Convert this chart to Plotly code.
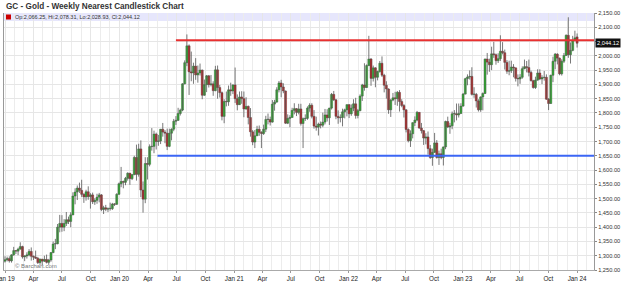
import pandas as pd
import plotly.graph_objects as go

# Weekly candles, week of 2018-12-31 through week of 2024-01-01
week_start = pd.date_range("2018-12-31", periods=262, freq="7D")

opens = [
    # 2019
    1281,1286,1290,1282,1303,1318,1316,1323,1332,1296,1299,1303,1315,1298,1295,1291,1276,1288,1281,1287,1277,1285,1311,1341,1342,1400,1413,1400,1413,1426,1420,1443,1509,1523,1537,1529,1515,1506,1524,1507,1513,1489,1494,1505,1513,1462,1468,1463,1465,1465,1481,1480,1515,
    # 2020
    1552,1560,1557,1571,1589,1570,1584,1644,1585,1674,1530,1498,1623,1620,1682,1683,1726,1700,1702,1743,1733,1729,1683,1729,1743,1771,1774,1798,1810,1902,1976,2035,1944,1940,1964,1933,1940,1950,1862,1899,1930,1899,1902,1878,1951,1889,1871,1788,1840,1839,1881,1877,
    # 2021
    1898,1850,1829,1856,1850,1814,1823,1784,1734,1698,1720,1743,1732,1728,1743,1777,1777,1768,1831,1838,1881,1905,1891,1877,1764,1781,1784,1809,1815,1802,1814,1763,1780,1781,1817,1827,1788,1754,1750,1761,1757,1768,1793,1783,1817,1865,1846,1788,1783,1784,1804,1811,
    # 2022
    1829,1797,1817,1832,1791,1808,1859,1898,1889,1966,1989,1921,1958,1925,1945,1974,1932,1897,1884,1811,1845,1853,1850,1872,1840,1826,1811,1742,1703,1727,1766,1775,1802,1747,1738,1712,1716,1675,1644,1662,1695,1644,1657,1644,1681,1770,1751,1755,1797,1797,1793,1798,
    # 2023
    1824,1866,1920,1926,1928,1865,1865,1842,1811,1856,1868,1989,1978,1969,2007,2004,1983,1990,2016,2011,1977,1946,1948,1961,1958,1921,1919,1925,1955,1962,1959,1942,1913,1889,1915,1940,1919,1924,1925,1848,1833,1932,1981,2006,1992,1937,1981,2001,2072,2004,2019,2053,
    # 2024
    2066.25,
]
highs = [
    1298,1297,1298,1305,1331,1320,1328,1347,1335,1302,1312,1323,1329,1301,1318,1296,1290,1289,1300,1304,1289,1313,1350,1359,1411,1443,1442,1428,1453,1437,1452,1522,1536,1546,1556,1566,1519,1531,1543,1519,1521,1501,1517,1520,1516,1475,1478,1469,1486,1485,1484,1519,1556,
    1611,1563,1576,1592,1590,1586,1650,1689,1692,1704,1560,1645,1645,1690,1747,1738,1731,1723,1744,1765,1740,1745,1745,1746,1779,1789,1818,1815,1904,1984,2075,2040,2015,1976,1992,1966,1973,1952,1917,1933,1933,1933,1911,1965,1966,1898,1875,1848,1875,1896,1906,1900,
    1959,1865,1875,1876,1875,1855,1826,1817,1740,1740,1755,1756,1736,1759,1790,1798,1787,1845,1846,1890,1912,1916,1904,1878,1795,1792,1818,1834,1817,1832,1832,1784,1795,1823,1834,1834,1810,1787,1766,1770,1801,1814,1813,1818,1870,1877,1849,1809,1795,1815,1815,1830,
    1831,1830,1848,1853,1814,1865,1902,1974,1970,2070,1992,1966,1960,1948,1982,1998,1937,1911,1886,1849,1870,1874,1877,1880,1848,1831,1813,1746,1739,1767,1788,1807,1803,1765,1740,1729,1735,1688,1675,1730,1705,1668,1675,1682,1773,1787,1765,1805,1810,1833,1833,1834,
    1870,1923,1935,1949,1960,1890,1870,1848,1858,1872,1990,2010,1990,2032,2049,2008,2009,2072,2048,2022,1985,1983,1983,1971,1959,1935,1936,1963,1987,1982,1987,1948,1916,1927,1953,1953,1932,1947,1935,1852,1934,1997,2010,2009,1994,1988,2010,2075,2135,2047,2070,2088,
    2078.31,
]
lows = [
    1276,1280,1276,1276,1300,1306,1302,1322,1290,1281,1290,1298,1283,1285,1289,1271,1268,1267,1278,1273,1268,1279,1309,1323,1340,1382,1384,1386,1404,1411,1400,1442,1480,1495,1520,1506,1485,1493,1496,1465,1481,1478,1482,1487,1456,1446,1456,1453,1458,1460,1474,1478,1514,
    1540,1536,1547,1563,1548,1565,1582,1563,1577,1505,1451,1484,1567,1613,1668,1659,1672,1685,1691,1717,1694,1670,1680,1704,1736,1758,1772,1791,1806,1900,1964,1863,1911,1902,1916,1906,1931,1848,1860,1873,1889,1893,1860,1876,1850,1854,1774,1764,1823,1825,1860,1866,
    1835,1809,1828,1832,1785,1811,1760,1717,1687,1677,1719,1720,1677,1723,1733,1760,1756,1766,1808,1836,1872,1855,1869,1762,1761,1750,1784,1795,1789,1795,1756,1677,1772,1776,1804,1781,1745,1738,1721,1746,1750,1760,1770,1758,1812,1842,1778,1762,1767,1753,1781,1788,
    1782,1790,1806,1780,1781,1806,1842,1878,1888,1964,1895,1910,1890,1914,1941,1926,1872,1850,1797,1786,1841,1828,1825,1805,1820,1784,1732,1697,1681,1711,1754,1771,1745,1728,1688,1690,1654,1639,1615,1660,1640,1618,1638,1616,1673,1747,1727,1743,1767,1774,1784,1797,
    1822,1865,1897,1917,1861,1853,1819,1805,1804,1809,1867,1934,1944,1950,1993,1969,1975,1982,2005,1952,1937,1932,1940,1925,1910,1893,1902,1920,1953,1942,1928,1910,1885,1884,1913,1915,1901,1913,1846,1810,1832,1908,1953,1970,1932,1931,1975,2000,1993,1973,2016,2052,
    2028.93,
]
closes = [
    1286,1290,1282,1303,1318,1316,1323,1332,1296,1299,1303,1315,1298,1295,1291,1276,1288,1281,1287,1277,1285,1311,1341,1342,1400,1413,1400,1413,1426,1420,1443,1509,1523,1537,1529,1515,1506,1524,1507,1513,1489,1494,1505,1513,1462,1468,1463,1465,1465,1481,1480,1515,1552,
    1560,1557,1571,1589,1570,1584,1644,1585,1674,1530,1498,1623,1620,1682,1683,1726,1700,1702,1743,1733,1729,1683,1729,1743,1771,1774,1798,1810,1902,1976,2035,1944,1940,1964,1933,1940,1950,1862,1899,1930,1899,1902,1878,1951,1889,1871,1788,1840,1839,1881,1877,1898,
    1850,1829,1856,1850,1814,1823,1784,1734,1698,1720,1743,1732,1728,1743,1777,1777,1768,1831,1838,1881,1905,1891,1877,1764,1781,1784,1809,1815,1802,1814,1763,1780,1781,1817,1827,1788,1754,1750,1761,1757,1768,1793,1783,1817,1865,1846,1788,1783,1784,1804,1811,1829,
    1797,1817,1832,1791,1808,1859,1898,1889,1966,1989,1921,1958,1925,1945,1974,1932,1897,1884,1811,1845,1853,1850,1872,1840,1826,1811,1742,1703,1727,1766,1775,1802,1747,1738,1712,1716,1675,1644,1662,1695,1644,1657,1644,1681,1770,1751,1755,1797,1797,1793,1798,1824,
    1866,1920,1926,1928,1865,1865,1842,1811,1856,1868,1989,1978,1969,2007,2004,1983,1990,2016,2011,1977,1946,1948,1961,1958,1921,1919,1925,1955,1962,1959,1942,1913,1889,1915,1940,1919,1924,1925,1848,1833,1932,1981,2006,1992,1937,1981,2001,2072,2004,2019,2053,2063,
    2044.12,
]

quarter_ticks = pd.date_range("2019-01-01", "2024-01-01", freq="QS")
quarter_labels = ["Jan 19", "Apr", "Jul", "Oct", "Jan 20", "Apr", "Jul", "Oct",
                  "Jan 21", "Apr", "Jul", "Oct", "Jan 22", "Apr", "Jul", "Oct",
                  "Jan 23", "Apr", "Jul", "Oct", "Jan 24"]
price_ticks = [1250, 1300, 1350, 1400, 1450, 1500, 1550, 1600, 1650, 1700, 1750,
               1800, 1850, 1900, 1950, 2000, 2050, 2100, 2150]
price_labels = ["1,250.00", "1,300.00", "1,350.00", "1,400.00", "1,450.00", "1,500.00",
                "1,550.00", "1,600.00", "1,650.00", "1,700.00", "1,750.00", "1,800.00",
                "1,850.00", "1,900.00", "1,950.00", "2,000.00", "", "2,100.00", "2,150.00"]

resistance = 2055
support = 1650
resistance_start = "2020-06-29"
support_start = "2020-05-01"
x_start, x_end = "2018-12-28", "2024-02-24"

UP, DOWN, EDGE = "#22e022", "#e81818", "#333333"

# wicks (high-low) as line segments
wick_x, wick_y = [], []
for d, lo, hi in zip(week_start, lows, highs):
    wick_x += [d, d, None]
    wick_y += [lo, hi, None]

body_base = [min(o, c) for o, c in zip(opens, closes)]
body_len = [max(abs(c - o), 1.5) for o, c in zip(opens, closes)]
body_col = [UP if c >= o else DOWN for o, c in zip(opens, closes)]

fig = go.Figure()
fig.add_trace(go.Scatter(x=wick_x, y=wick_y, mode="lines",
                         line=dict(color="#555555", width=0.8), hoverinfo="skip"))
fig.add_trace(go.Bar(x=week_start, base=body_base, y=body_len,
                     width=6.5 * 86400000,
                     marker=dict(color=body_col, line=dict(color=EDGE, width=0.4)),
                     hoverinfo="skip"))

W, H = 621, 282
L, R, T, B = 4, 27, 13, 12
pw, ph = W - L - R, H - T - B

fig.update_layout(
    width=W, height=H, margin=dict(l=L, r=R, t=T, b=B, autoexpand=False),
    paper_bgcolor="white", plot_bgcolor="white", showlegend=False,
    font=dict(family="Liberation Sans, Arial, sans-serif", color="#333"),
    xaxis=dict(
        type="date", range=[x_start, x_end], automargin=False,
        tickvals=quarter_ticks, ticktext=quarter_labels,
        tickfont=dict(size=6.3, color="#222"), ticklabeloverflow="allow",
        ticks="outside", ticklen=2, tickcolor="#999", ticklabelstandoff=0,
        showgrid=True, gridcolor="#e6e6e6", gridwidth=1,
        minor=dict(dtick="M1", tick0="2019-01-01", showgrid=True, gridcolor="#ececec", ticks=""),
        showline=True, linecolor="#aaa", linewidth=1, zeroline=False,
    ),
    yaxis=dict(
        side="right", range=[1250, 2150], automargin=False,
        tickvals=price_ticks, ticktext=price_labels,
        tickfont=dict(size=5.7, color="#333"), ticklabelstandoff=0,
        ticks="outside", ticklen=2, tickcolor="#888",
        showgrid=True, gridcolor="#e6e6e6", gridwidth=1,
        showline=True, linecolor="#999", linewidth=1, mirror=True, zeroline=False,
    ),
    shapes=[
        dict(type="rect", xref="x domain", yref="y domain", x0=0, x1=1,
             y0=1 - 8 / ph, y1=1, fillcolor="rgba(200,200,248,0.45)",
             line=dict(width=0), layer="below"),
        dict(type="rect", xref="x domain", yref="y domain", x0=2 / pw, x1=7 / pw,
             y0=1 - 6.5 / ph, y1=1 - 1.5 / ph, fillcolor="#cc0000",
             line=dict(width=0)),
        dict(type="line", xref="x", yref="y", x0=resistance_start, x1=x_end,
             y0=resistance, y1=resistance, line=dict(color="#e83030", width=2)),
        dict(type="line", xref="x", yref="y", x0=support_start, x1=x_end,
             y0=support, y1=support, line=dict(color="#3b66f5", width=2)),
    ],
    annotations=[
        dict(text="<b>GC - Gold - Weekly Nearest Candlestick Chart</b>",
             xref="paper", yref="paper", x=0, y=1, xanchor="left", yanchor="middle",
             yshift=7, showarrow=False, font=dict(size=8.2, color="#333")),
        dict(text=f"Op:{opens[-1]:,.2f}, Hi:{highs[-1]:,.2f}, Lo:{lows[-1]:,.2f}, Cl:{closes[-1]:,.2f}",
             xref="x domain", yref="y domain", x=9 / pw, y=1 - 4 / ph,
             xanchor="left", yanchor="middle", showarrow=False,
             font=dict(size=5.5, color="#333")),
        dict(text="© Barchart.com", xref="x domain", yref="y domain",
             x=9 / pw, y=4 / ph, xanchor="left", yanchor="middle", showarrow=False,
             font=dict(size=6, color="#777")),
        dict(text=f"{closes[-1]:,.2f}", xref="paper", yref="y", x=1, y=closes[-1],
             xanchor="left", yanchor="middle", xshift=1, showarrow=False,
             bgcolor="#111", borderpad=1, font=dict(size=5.7, color="white")),
    ],
)

fig.write_html("out.html")
